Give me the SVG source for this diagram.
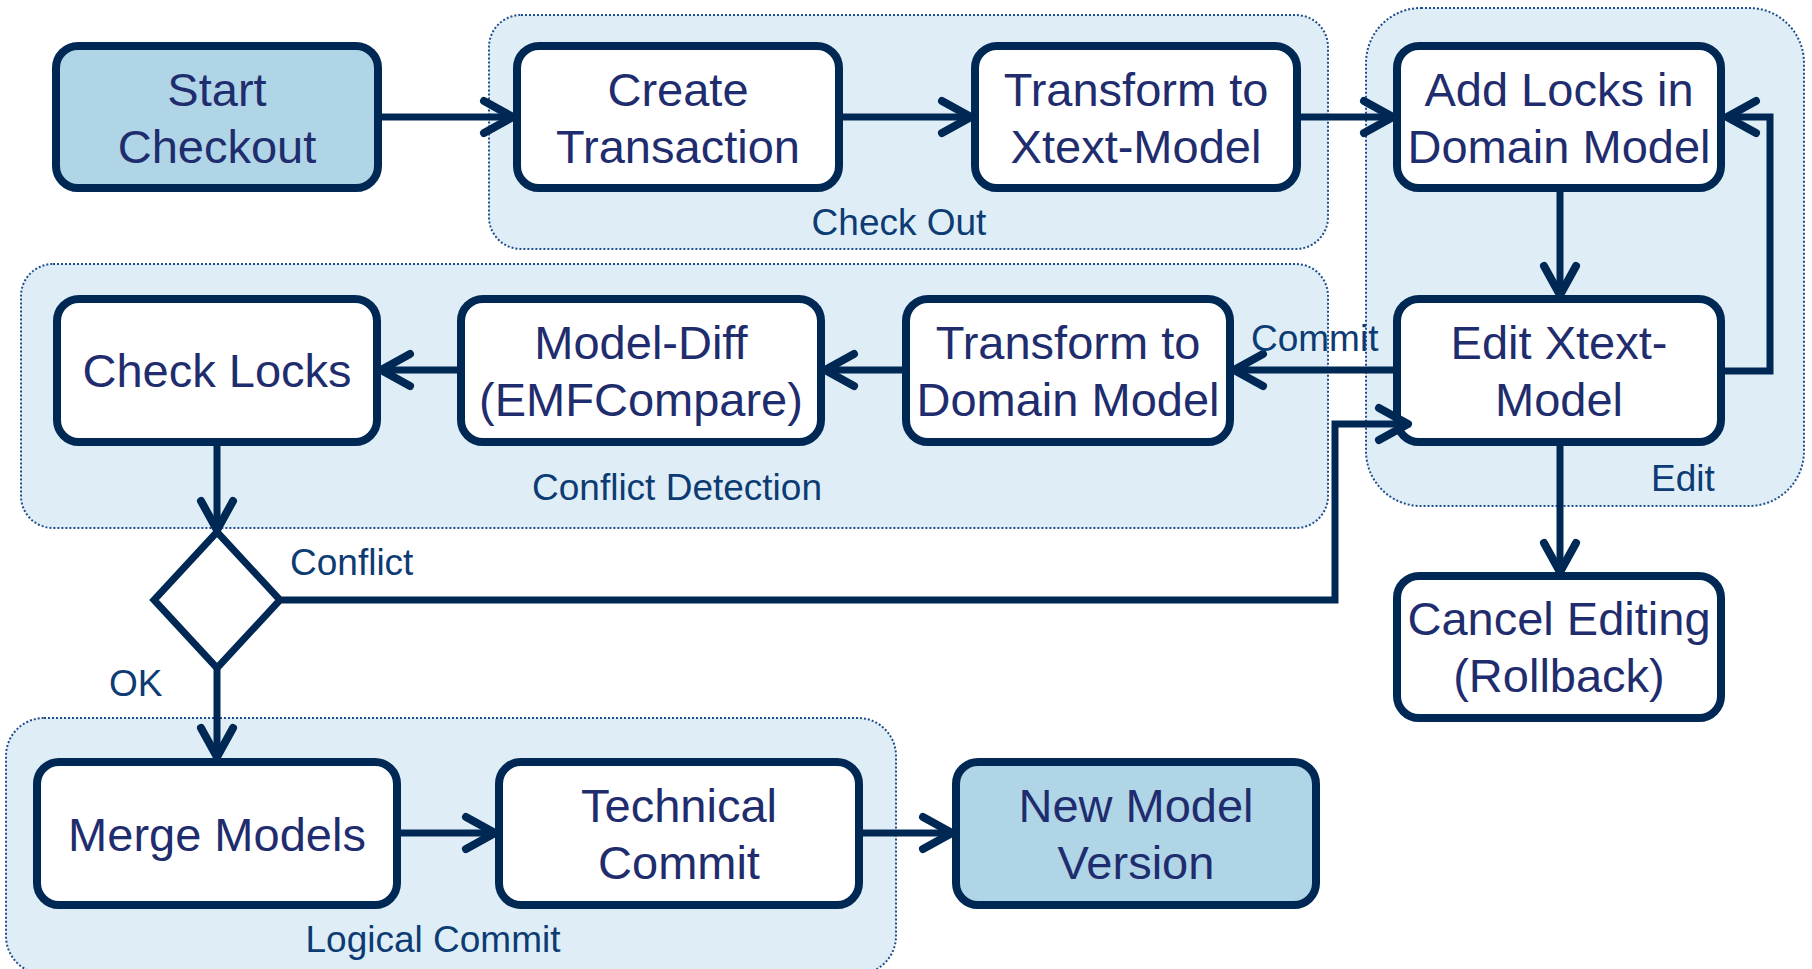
<svg xmlns="http://www.w3.org/2000/svg" width="1812" height="969" viewBox="0 0 1812 969">
<style>
.grp{fill:#dfeef6;stroke:#1f4e8c;stroke-width:2;stroke-dasharray:2 2}
.node{fill:#ffffff;stroke:#002855;stroke-width:8}
.hl{fill:#b0d5e6}
.nt{font-family:"Liberation Sans",Arial,sans-serif;font-size:47px;fill:#1f2d6e;text-anchor:middle}
.gl{font-family:"Liberation Sans",Arial,sans-serif;font-size:37px;fill:#0d3b73;text-anchor:middle}
.el{font-family:"Liberation Sans",Arial,sans-serif;font-size:37px;fill:#0d3b73}
.conn path{fill:none;stroke:#002855;stroke-width:7;stroke-linejoin:miter;marker-end:url(#arr)}
</style>
<defs>
<marker id="arr" markerUnits="userSpaceOnUse" viewBox="-38 -22 46 44" refX="0" refY="0" markerWidth="46" markerHeight="44" orient="auto">
<path d="M-29,-16 L0,0 L-29,16" fill="none" stroke="#002855" stroke-width="8" stroke-linecap="round" stroke-linejoin="round"/>
</marker>
</defs>
<rect width="1812" height="969" fill="#ffffff"/>
<g id="group-checkout"><rect class="grp" x="489" y="15" width="839" height="234" rx="32"/><text class="gl" x="899" y="235">Check Out</text></g>
<g id="group-edit"><rect class="grp" x="1366" y="8" width="438" height="498" rx="55"/><text class="gl" x="1683" y="491">Edit</text></g>
<g id="group-conflict"><rect class="grp" x="21" y="264" width="1307" height="264" rx="32"/><text class="gl" x="677" y="500">Conflict Detection</text></g>
<g id="group-logical"><rect class="grp" x="6" y="718" width="890" height="256" rx="38"/><text class="gl" x="433" y="952">Logical Commit</text></g>

<g id="n-start"><rect class="node hl" x="56" y="46" width="322" height="142" rx="22"/><text class="nt" x="217" y="105.5">Start</text><text class="nt" x="217" y="162.5">Checkout</text></g>
<g id="n-create"><rect class="node" x="517" y="46" width="322" height="142" rx="22"/><text class="nt" x="678" y="105.5">Create</text><text class="nt" x="678" y="162.5">Transaction</text></g>
<g id="n-toxtext"><rect class="node" x="975" y="46" width="322" height="142" rx="22"/><text class="nt" x="1136" y="105.5">Transform to</text><text class="nt" x="1136" y="162.5">Xtext-Model</text></g>
<g id="n-addlocks"><rect class="node" x="1397" y="46" width="324" height="142" rx="22"/><text class="nt" x="1559" y="105.5">Add Locks in</text><text class="nt" x="1559" y="162.5">Domain Model</text></g>
<g id="n-checklocks"><rect class="node" x="57" y="299" width="320" height="143" rx="22"/><text class="nt" x="217" y="387">Check Locks</text></g>
<g id="n-modeldiff"><rect class="node" x="461" y="299" width="360" height="143" rx="22"/><text class="nt" x="641" y="359">Model-Diff</text><text class="nt" x="641" y="416">(EMFCompare)</text></g>
<g id="n-todomain"><rect class="node" x="906" y="299" width="324" height="143" rx="22"/><text class="nt" x="1068" y="359">Transform to</text><text class="nt" x="1068" y="416">Domain Model</text></g>
<g id="n-editxtext"><rect class="node" x="1397" y="299" width="324" height="143" rx="22"/><text class="nt" x="1559" y="359">Edit Xtext-</text><text class="nt" x="1559" y="416">Model</text></g>
<g id="n-cancel"><rect class="node" x="1397" y="576" width="324" height="142" rx="22"/><text class="nt" x="1559" y="634.5">Cancel Editing</text><text class="nt" x="1559" y="691.5">(Rollback)</text></g>
<g id="n-merge"><rect class="node" x="37" y="762" width="360" height="143" rx="22"/><text class="nt" x="217" y="851">Merge Models</text></g>
<g id="n-technical"><rect class="node" x="499" y="762" width="360" height="143" rx="22"/><text class="nt" x="679" y="821.5">Technical</text><text class="nt" x="679" y="878.5">Commit</text></g>
<g id="n-newversion"><rect class="node hl" x="956" y="762" width="360" height="143" rx="22"/><text class="nt" x="1136" y="821.5">New Model</text><text class="nt" x="1136" y="878.5">Version</text></g>
<g id="n-decision"><polygon points="217,532 280,600 217,668 154,600" fill="#ffffff" stroke="#002855" stroke-width="7" stroke-linejoin="miter"/></g>

<g id="connectors" class="conn">
<path d="M382,117 H513"/>
<path d="M843,117 H971"/>
<path d="M1301,117 H1393"/>
<path d="M1560,192 V295"/>
<path d="M1725,371 H1770 V117 H1727"/>
<path d="M1393,370 H1234"/>
<path d="M902,370 H825"/>
<path d="M457,370 H381"/>
<path d="M217,446 V530"/>
<path d="M281,600 H1335 V424 H1408"/>
<path d="M217,668 V757"/>
<path d="M400,833 H495"/>
<path d="M862,833 H952"/>
<path d="M1560,446 V572"/>
</g>
<g id="edge-labels">
<text class="el" x="1251" y="351">Commit</text>
<text class="el" x="290" y="575">Conflict</text>
<text class="el" x="109" y="696">OK</text>
</g>
</svg>
